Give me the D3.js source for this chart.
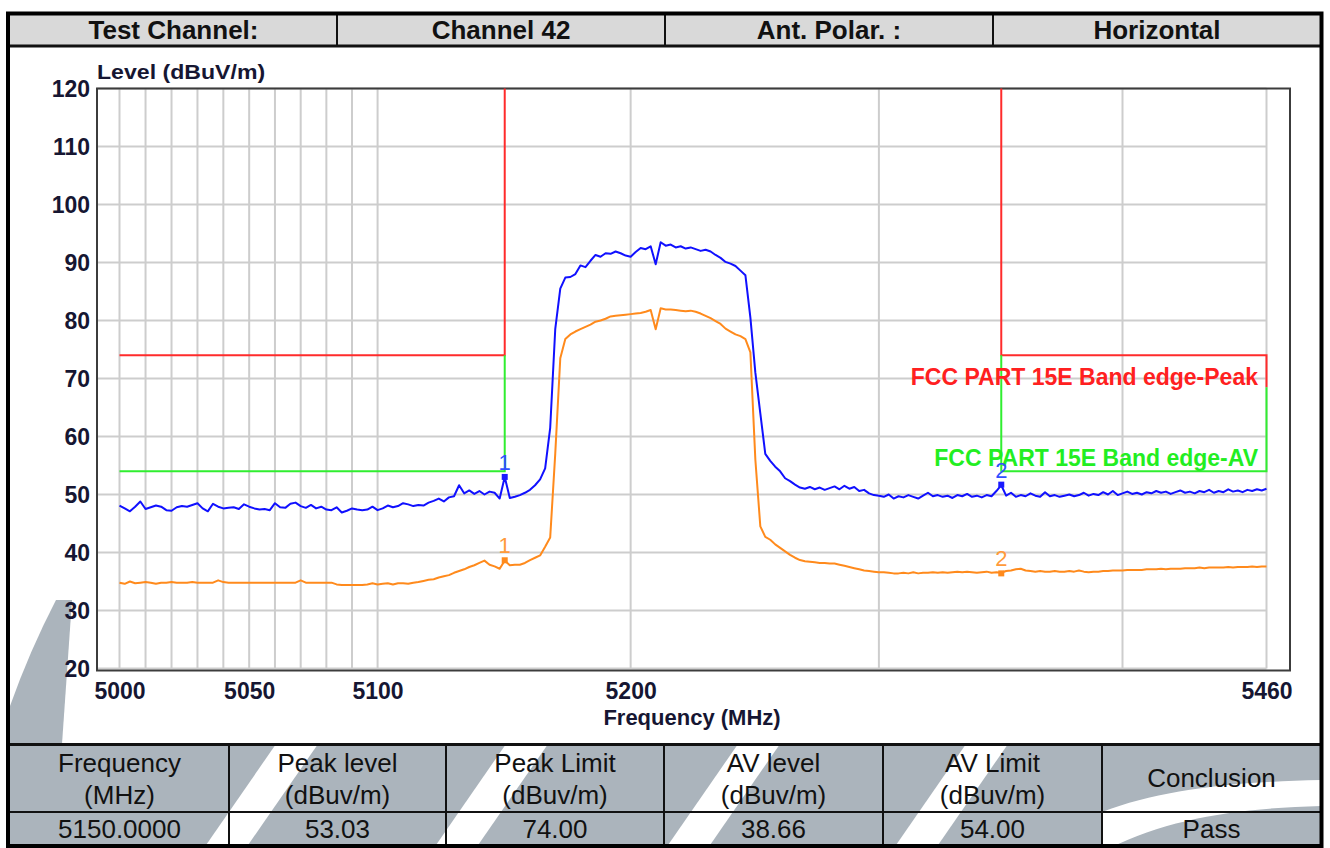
<!DOCTYPE html>
<html><head><meta charset="utf-8">
<script src="https://cdn.jsdelivr.net/npm/d3@7"></script>
<style>html,body{margin:0;padding:0;background:#fff;overflow:hidden;} svg{display:block;font-family:"Liberation Sans",Arial,sans-serif;}</style>
</head><body><svg id="c" width="1330" height="848"></svg>
<script>
// ---------------- data ----------------
const headerLabels = ["Test Channel:", "Channel 42", "Ant. Polar. :", "Horizontal"];
const tableHeaders = [["Frequency","(MHz)"],["Peak level","(dBuv/m)"],["Peak Limit","(dBuv/m)"],["AV level","(dBuv/m)"],["AV Limit","(dBuv/m)"],["Conclusion"]];
const tableValues = ["5150.0000","53.03","74.00","38.66","54.00","Pass"];
const yTicks = [20,30,40,50,60,70,80,90,100,110,120];
const xTickLabels = [5000,5050,5100,5200,5460];
const xGrid = [5000,5010,5020,5030,5040,5050,5060,5070,5080,5090,5100,5200,5300,5400,5460];
const freqStart = 5000, freqStep = 2, freqEnd = 5460;
const peakLevel = [
48.1,47.6,47.1,47.9,48.8,47.5,47.8,48.1,47.9,47.3,
47.2,47.8,48.0,47.9,48.2,48.5,47.6,47.1,48.4,47.9,
47.6,47.7,47.8,47.5,48.3,47.9,47.6,47.4,47.5,47.3,
48.5,47.8,47.7,48.4,48.6,48.0,47.7,48.2,47.6,47.9,
47.4,47.3,47.8,46.9,47.2,47.6,47.4,47.3,47.4,47.9,
47.3,47.6,48.1,47.8,48.0,48.5,48.3,48.0,48.2,48.1,
48.6,48.9,49.3,48.8,49.5,49.7,51.6,50.2,50.7,50.1,
50.6,50.0,50.5,50.3,49.3,53.0,49.4,49.6,49.9,50.3,
50.8,51.6,52.6,54.5,61.5,78.5,85.5,87.4,87.5,88.0,
89.5,89.2,90.3,91.3,91.0,91.6,91.5,91.9,91.6,91.2,
91.0,91.8,92.5,92.3,92.8,89.7,93.5,92.9,93.1,92.6,
92.8,92.4,92.6,92.3,92.0,92.2,91.9,91.3,90.8,90.1,
89.8,89.4,88.6,87.8,80.5,71.0,64.0,57.0,55.8,54.8,
54.0,52.8,52.3,51.7,51.2,51.0,51.3,50.9,51.2,50.8,
51.1,51.4,50.9,51.5,51.0,51.3,50.6,50.8,50.2,49.9,
49.8,49.6,50.0,49.3,49.7,49.5,49.9,49.6,49.3,49.8,
50.3,49.7,49.9,49.6,49.8,49.4,49.9,49.7,50.1,49.6,
49.8,49.5,49.9,49.7,50.6,51.6,49.8,50.3,49.6,49.9,
49.7,50.2,49.8,49.6,50.4,49.7,49.9,49.6,49.8,50.0,
49.7,49.9,50.3,49.8,50.1,49.9,50.4,50.0,50.6,49.9,
50.2,50.5,50.1,50.3,50.0,50.4,50.2,50.6,50.3,50.5,
50.1,50.4,50.7,50.3,50.5,50.2,50.6,50.4,50.8,50.3,
50.6,50.4,50.9,50.5,50.7,50.4,50.8,50.6,50.9,50.7,
51.0];
const avLevel = [
34.8,34.6,35.0,34.7,34.8,34.9,34.8,34.6,34.8,34.8,
34.9,34.8,34.8,34.8,34.9,34.8,34.8,34.8,34.8,35.2,
34.9,34.8,34.8,34.8,34.8,34.8,34.8,34.8,34.8,34.8,
34.8,34.8,34.8,34.8,34.8,35.2,34.8,34.8,34.8,34.8,
34.8,34.8,34.5,34.4,34.4,34.4,34.4,34.4,34.5,34.7,
34.5,34.6,34.7,34.5,34.7,34.7,34.6,34.8,34.9,35.1,
35.3,35.4,35.7,35.9,36.1,36.5,36.8,37.1,37.5,37.8,
38.2,38.6,37.9,37.6,37.2,38.6,37.8,37.9,37.9,38.2,
38.7,39.1,39.5,41.0,42.6,57.0,73.5,76.8,77.6,78.1,
78.5,78.9,79.3,79.8,80.0,80.3,80.7,80.8,80.9,81.0,
81.1,81.2,81.3,81.5,81.8,78.5,82.1,81.9,81.9,81.8,
81.7,81.6,81.7,81.5,81.2,80.8,80.4,79.9,79.4,78.6,
78.1,77.6,77.3,76.8,74.5,56.0,44.5,42.7,42.2,41.4,
40.8,40.2,39.6,39.1,38.7,38.5,38.4,38.3,38.2,38.2,
38.1,38.1,37.9,37.7,37.5,37.3,37.1,36.9,36.8,36.7,
36.6,36.6,36.5,36.4,36.4,36.5,36.4,36.6,36.4,36.5,
36.5,36.6,36.5,36.6,36.5,36.6,36.7,36.6,36.7,36.6,
36.5,36.6,36.7,36.5,36.6,36.5,36.8,36.9,37.1,37.2,
36.9,36.8,36.7,36.8,36.7,36.7,36.8,36.7,36.7,36.8,
36.7,36.9,36.7,36.6,36.7,36.7,36.8,36.8,36.9,36.9,
36.9,37.0,37.0,37.0,37.0,37.1,37.1,37.1,37.2,37.1,
37.2,37.2,37.2,37.3,37.3,37.3,37.4,37.3,37.4,37.4,
37.4,37.4,37.5,37.4,37.5,37.5,37.5,37.6,37.5,37.6,
37.6];
const peakLimitFreq1 = [5000,5150,5150], peakLimitLevel1 = [74,74,120];
const peakLimitFreq2 = [5350,5350,5460,5460], peakLimitLevel2 = [120,74,74,68.5];
const avLimitFreq1 = [5000,5150,5150], avLimitLevel1 = [54,54,74];
const avLimitFreq2 = [5350,5350,5460,5460], avLimitLevel2 = [74,54,54,68.5];
const markerFreq = [5150,5350];
const markerPeak = [53.03,51.7];
const markerAV = [38.66,36.4];
const markerLabels = ["1","2"];
const limitLabels = ["FCC PART 15E Band edge-Peak","FCC PART 15E Band edge-AV"];
const limitLabelLevel = [68.9,54.9];

// ---------------- drawing ----------------
const svg = d3.select("#c");
const ink = "#161632";
function stretch(sel, sx){
  sel.each(function(){
    const w = this.getComputedTextLength();
    d3.select(this).attr("textLength", w*sx).attr("lengthAdjust","spacingAndGlyphs");
  });
}
svg.append("rect").attr("width",1330).attr("height",848).attr("fill","#fff");

// watermark in chart area (left)
const wm = "#abb4bc";
svg.append("path").attr("fill",wm)
  .attr("d","M56,600 L72,600 L62,744 L10,744 L10,706 Q30,650 56,600 Z");

// bottom table background + watermark stripes
svg.append("rect").attr("x",10).attr("y",744).attr("width",1311).attr("height",104).attr("fill",wm);
const stripes = [[276,42],[506,42],[738,42],[966,42]];
stripes.forEach(([tx,w])=>{
  svg.append("path").attr("fill","#fff")
   .attr("d",`M${tx},744 L${tx+w},744 L${tx+w-72},848 L${tx-72},848 Z`);
});
svg.append("path").attr("fill","#fff")
  .attr("d","M1102,812 C1160,790 1230,782 1321,780 L1321,806 C1240,808 1170,818 1110,848 L1102,848 Z");

// header row
svg.append("rect").attr("x",10).attr("y",14).attr("width",1311).attr("height",32).attr("fill","#d9d9d9");
const hdrX = [10,337,665,993,1321];
headerLabels.forEach((t,i)=>{
  svg.append("text").attr("x",(hdrX[i]+hdrX[i+1])/2).attr("y",39)
    .attr("text-anchor","middle").attr("font-weight","bold").attr("font-size",25)
    .attr("fill","#111").text(t).call(stretch,1.04);
});
[337,665,993].forEach(x=>svg.append("line").attr("x1",x).attr("x2",x).attr("y1",14).attr("y2",46).attr("stroke","#111").attr("stroke-width",2));
svg.append("line").attr("x1",8).attr("x2",1322).attr("y1",46).attr("y2",46).attr("stroke","#111").attr("stroke-width",3);

// bottom table
const colX = [10,229,446,664,883,1102,1321];
svg.append("line").attr("x1",8).attr("x2",1322).attr("y1",744.5).attr("y2",744.5).attr("stroke","#111").attr("stroke-width",3);
svg.append("line").attr("x1",8).attr("x2",1322).attr("y1",812).attr("y2",812).attr("stroke","#111").attr("stroke-width",2);
colX.slice(1,-1).forEach(x=>svg.append("line").attr("x1",x).attr("x2",x).attr("y1",744).attr("y2",848).attr("stroke","#111").attr("stroke-width",2));
tableHeaders.forEach((lines,i)=>{
  const cx = (colX[i]+colX[i+1])/2;
  const ys = lines.length===2 ? [772,804] : [787];
  lines.forEach((t,j)=>{
    svg.append("text").attr("x",cx).attr("y",ys[j]).attr("text-anchor","middle")
      .attr("font-size",26).attr("fill","#111").text(t);
  });
});
tableValues.forEach((t,i)=>{
  const cx = (colX[i]+colX[i+1])/2;
  svg.append("text").attr("x",cx).attr("y",838).attr("text-anchor","middle")
    .attr("font-size",26).attr("fill","#111").text(t);
});

// outer border
svg.append("rect").attr("x",8).attr("y",13.5).attr("width",1313.5).attr("height",832.5)
  .attr("fill","none").attr("stroke","#000").attr("stroke-width",4);

// ---------- chart ----------
const x = d3.scaleLog().domain([5000,5460]).range([119.5,1266.5]);
const y = d3.scaleLinear().domain([20,120]).range([668.5,88.5]);
const g = svg.append("g");

// grid
g.selectAll(".hg").data(yTicks).join("line")
  .attr("x1",97).attr("x2",x(5460)).attr("y1",d=>y(d)).attr("y2",d=>y(d))
  .attr("stroke","#cdcdcd").attr("stroke-width",2);
g.selectAll(".vg").data(xGrid).join("line")
  .attr("x1",d=>x(d)).attr("x2",d=>x(d)).attr("y1",y(120)).attr("y2",y(20))
  .attr("stroke","#cdcdcd").attr("stroke-width",2);
// frame
g.append("rect").attr("x",97).attr("y",88.5).attr("width",1193).attr("height",582)
  .attr("fill","none").attr("stroke","#3c3c3c").attr("stroke-width",2);

// axes labels via d3 axes (text only)
const yAxis = d3.axisLeft(y).tickValues(yTicks).tickSize(0).tickPadding(7);
const ya = g.append("g").attr("transform","translate(97,0)").call(yAxis);
ya.select(".domain").remove();
ya.selectAll("text").attr("font-size",23).attr("font-weight","bold").attr("fill",ink)
  .attr("font-family","Liberation Sans, Arial, sans-serif").attr("dy","0.36em");
const xAxis = d3.axisBottom(x).tickValues(xTickLabels).tickFormat(d3.format("d")).tickSize(0).tickPadding(0);
const xa = g.append("g").attr("transform","translate(0,683)").call(xAxis);
xa.select(".domain").remove();
xa.selectAll("text").attr("font-size",23).attr("font-weight","bold").attr("fill",ink)
  .attr("font-family","Liberation Sans, Arial, sans-serif").attr("dy","0.71em");

g.append("text").attr("x",97).attr("y",79).attr("font-size",21).attr("font-weight","bold")
  .attr("fill",ink).text("Level (dBuV/m)").call(stretch,1.1);
g.append("text").attr("x",692).attr("y",725).attr("text-anchor","middle").attr("font-size",22)
  .attr("font-weight","bold").attr("fill",ink).text("Frequency (MHz)");

// limit lines
const lim = d3.line().x(d=>x(d[0])).y(d=>y(d[1]));
function drawLimit(fs, ls, col){
  g.append("path").datum(fs.map((f,i)=>[f,ls[i]])).attr("d",lim)
   .attr("fill","none").attr("stroke",col).attr("stroke-width",2);
}
drawLimit(peakLimitFreq1, peakLimitLevel1, "#ff2b2b");
drawLimit(peakLimitFreq2, peakLimitLevel2, "#ff2b2b");
drawLimit(avLimitFreq1, avLimitLevel1, "#30ee30");
drawLimit(avLimitFreq2, avLimitLevel2, "#30ee30");

// traces
const freqs = d3.range(freqStart, freqEnd + 0.001, freqStep);
const trace = d3.line().x((d,i)=>x(freqs[i])).y(d=>y(d));
g.append("path").datum(avLevel).attr("d",trace).attr("fill","none")
  .attr("stroke","#ff8a1c").attr("stroke-width",2).attr("stroke-linejoin","round");
g.append("path").datum(peakLevel).attr("d",trace).attr("fill","none")
  .attr("stroke","#1010ff").attr("stroke-width",2).attr("stroke-linejoin","round");

// limit labels
const limCols = ["#ff2020","#22ee22"];
limitLabels.forEach((t,i)=>{
  g.append("text").attr("x",1258).attr("y",y(limitLabelLevel[i])).attr("text-anchor","end")
   .attr("font-size",23).attr("font-weight","bold").attr("fill",limCols[i])
   .text(t);
});

// markers
markerFreq.forEach((f,i)=>{
  [[markerPeak[i],"#1a1aff","#3050ff"],[markerAV[i],"#ff8a1c","#ff9a3a"]].forEach(([v,c,tc])=>{
    g.append("rect").attr("x",x(f)-3).attr("y",y(v)-3).attr("width",6).attr("height",6).attr("fill",c);
    g.append("text").attr("x",x(f)).attr("y",y(v)-7).attr("text-anchor","middle")
     .attr("font-size",22).attr("fill",tc).text(markerLabels[i]);
  });
});
</script></body></html>
